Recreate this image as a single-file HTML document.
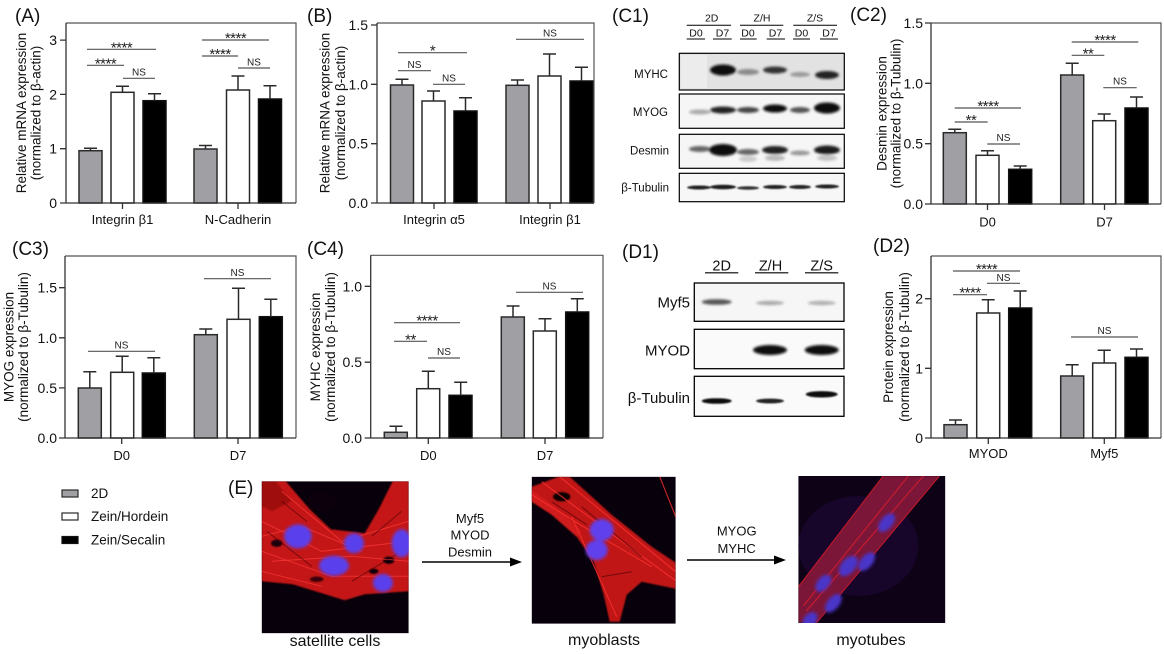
<!DOCTYPE html>
<html><head><meta charset="utf-8"><style>
html,body{margin:0;padding:0;background:#fff;}
svg{display:block;}
text{font-family:"Liberation Sans",Arial,sans-serif;fill:#111;}
.tk{font-size:14px;text-anchor:end;}
.xl{font-size:13px;text-anchor:middle;}
.yl{font-size:13.5px;text-anchor:middle;}
.pl{font-size:19px;}
.ns{font-size:10px;text-anchor:middle;fill:#222;}
.st{font-size:15px;text-anchor:middle;letter-spacing:-0.5px;fill:#222;}
.g{fill:#a0a0a4;stroke:#2a2a2a;stroke-width:1.5;}
.w{fill:#fff;stroke:#2a2a2a;stroke-width:1.5;}
.k{fill:#000;stroke:#111;stroke-width:1.5;}
.e{stroke:#2a2a2a;stroke-width:1.5;fill:none;}
.ax{stroke:#333;stroke-width:1.3;fill:none;}
.fr{stroke:#555;stroke-width:1.2;fill:none;}
.sg{stroke:#555;stroke-width:1.2;}
.bl{font-size:11.5px;text-anchor:end;}
.hd{font-size:10.5px;text-anchor:middle;}
.dl{font-size:15px;text-anchor:end;}
.dh{font-size:14.5px;text-anchor:middle;}
.ar{font-size:13px;text-anchor:middle;}
.cap{font-size:16px;text-anchor:middle;}
.lg{font-size:13.5px;}
</style></head><body>
<svg width="1164" height="654" viewBox="0 0 1164 654" xmlns="http://www.w3.org/2000/svg">
<defs>
<filter id="bb" x="-50%" y="-100%" width="200%" height="300%"><feGaussianBlur stdDeviation="1.3"/></filter>
<filter id="bs" x="-20%" y="-20%" width="140%" height="140%"><feGaussianBlur stdDeviation="0.8"/></filter>
<filter id="bn" x="-30%" y="-30%" width="160%" height="160%"><feGaussianBlur stdDeviation="1.5"/></filter>
<clipPath id="ci1"><rect width="147" height="152"/></clipPath>
<clipPath id="ci2"><rect width="144" height="147"/></clipPath>
<clipPath id="ci3"><rect width="147" height="147"/></clipPath>
</defs>
<rect width="1164" height="654" fill="#fff"/>

<!-- ================= Panel A ================= -->
<text class="pl" x="15" y="22">(A)</text>
<g>
<rect class="g" x="79" y="150.7" width="23" height="52.3"/>
<rect class="w" x="111" y="92.3" width="23" height="110.7"/>
<rect class="k" x="143" y="100.7" width="23" height="102.3"/>
<rect class="g" x="194" y="149" width="23" height="54"/>
<rect class="w" x="226.5" y="90" width="23" height="113"/>
<rect class="k" x="258.5" y="99" width="23" height="104"/>
<path class="e" d="M90.5 150.7V148.3M84 148.3H97M122.5 92.3V86.3M116 86.3H129M154.5 100.7V93.7M148 93.7H161M205.5 149V145.5M199 145.5H212M238 90V76M231.5 76H244.5M270 99V85.7M263.5 85.7H276.5"/>
<path class="fr" d="M66 23H296V203"/>
<path class="ax" d="M66 23V203H296M60 203H66M60 148.7H66M60 94.4H66M60 40.1H66M122.5 203V209M238 203V209"/>
<text class="tk" x="57" y="208">0</text>
<text class="tk" x="57" y="153.7">1</text>
<text class="tk" x="57" y="99.4">2</text>
<text class="tk" x="57" y="45.1">3</text>
<text class="xl" x="122.5" y="224">Integrin β1</text>
<text class="xl" x="238" y="224">N-Cadherin</text>
<text class="yl" transform="translate(25.8,113) rotate(-90)">Relative mRNA expression</text>
<text class="yl" transform="translate(40.3,113) rotate(-90)">(normalized to β-actin)</text>
<path class="sg" d="M87 49.3H156M87 65.3H124M123 78.3H155M202 40H269M202 56H238M238 68H270"/>
<text class="st" x="121.5" y="52.3">****</text>
<text class="st" x="105.5" y="68.3">****</text>
<text class="ns" x="139" y="75.6">NS</text>
<text class="st" x="235.5" y="43">****</text>
<text class="st" x="220" y="59">****</text>
<text class="ns" x="254" y="65.3">NS</text>
</g>

<!-- ================= Panel B ================= -->
<text class="pl" x="307" y="22">(B)</text>
<g>
<rect class="g" x="390.5" y="85" width="23" height="118"/>
<rect class="w" x="422" y="101" width="23" height="102"/>
<rect class="k" x="454" y="111" width="23" height="92"/>
<rect class="g" x="506" y="85.3" width="23" height="117.7"/>
<rect class="w" x="538" y="76" width="23" height="127"/>
<rect class="k" x="570" y="81" width="23" height="122"/>
<path class="e" d="M402 85V79.3M395.5 79.3H408.5M433.5 101V91M427 91H440M465.5 111V97.7M459 97.7H472M517.5 85.3V80M511 80H524M549.5 76V54M543 54H556M581.5 81V67.3M575 67.3H588"/>
<path class="fr" d="M377 23H594V203"/>
<path class="ax" d="M377 23V203H594M371 203H377M371 143.7H377M371 84.3H377M371 25H377M434 203V209M550 203V209"/>
<text class="tk" x="368" y="208">0.0</text>
<text class="tk" x="368" y="148.7">0.5</text>
<text class="tk" x="368" y="89.3">1.0</text>
<text class="tk" x="368" y="30">1.5</text>
<text class="xl" x="434" y="224">Integrin α5</text>
<text class="xl" x="550" y="224">Integrin β1</text>
<text class="yl" transform="translate(329.3,113) rotate(-90)">Relative mRNA expression</text>
<text class="yl" transform="translate(344.8,113) rotate(-90)">(normalized to β-actin)</text>
<path class="sg" d="M398 52.7H467M398 70.7H431M433 84.3H465M516 39.3H584"/>
<text class="st" x="432.5" y="55.7">*</text>
<text class="ns" x="414.5" y="68">NS</text>
<text class="ns" x="449" y="81.6">NS</text>
<text class="ns" x="550" y="36.6">NS</text>
</g>

<!-- ================= Panel C1 (blot) ================= -->
<text class="pl" x="612" y="22">(C1)</text>
<g>
<text class="hd" x="711.7" y="21.5">2D</text>
<text class="hd" x="762" y="21.5">Z/H</text>
<text class="hd" x="815" y="21.5">Z/S</text>
<path stroke="#000" stroke-width="1" d="M686.7 25.3H731M740 25.3H783.3M793.3 25.3H837"/>
<text class="hd" x="696" y="36.5">D0</text>
<text class="hd" x="722.5" y="36.5">D7</text>
<text class="hd" x="748" y="36.5">D0</text>
<text class="hd" x="775.5" y="36.5">D7</text>
<text class="hd" x="801.5" y="36.5">D0</text>
<text class="hd" x="829" y="36.5">D7</text>
<path stroke="#000" stroke-width="1" d="M686.7 39H705M713 39H731.7M740 39H756.7M766.7 39H785M793 39H810M820 39H838"/>
<!-- MYHC -->
<rect x="679.3" y="53.3" width="165" height="36.7" fill="#e2e2e2"/>
<rect x="681" y="55" width="26" height="33" fill="#ececec"/>
<g filter="url(#bb)">
<ellipse cx="723" cy="70" rx="13" ry="5.5" fill="#111"/>
<ellipse cx="748" cy="72" rx="11" ry="3" fill="#8a8a8a"/>
<ellipse cx="775" cy="70" rx="12" ry="3.5" fill="#333"/>
<ellipse cx="800" cy="74.5" rx="10" ry="2.5" fill="#9a9a9a"/>
<ellipse cx="827" cy="75" rx="12" ry="4" fill="#222"/>
</g>
<rect x="679.3" y="53.3" width="165" height="36.7" fill="none" stroke="#000" stroke-width="1.2"/>
<!-- MYOG -->
<rect x="679.3" y="94" width="165" height="34.3" fill="#f6f6f6"/>
<g filter="url(#bb)">
<ellipse cx="700" cy="112" rx="11" ry="2.5" fill="#aaa"/>
<ellipse cx="723" cy="110" rx="13" ry="3.5" fill="#222"/>
<ellipse cx="748" cy="110" rx="11" ry="3" fill="#444"/>
<ellipse cx="775" cy="108.5" rx="12" ry="4" fill="#111"/>
<ellipse cx="800" cy="110" rx="10" ry="3" fill="#555"/>
<ellipse cx="827" cy="108" rx="13" ry="5.5" fill="#0a0a0a"/>
</g>
<rect x="679.3" y="94" width="165" height="34.3" fill="none" stroke="#000" stroke-width="1.2"/>
<!-- Desmin -->
<rect x="679.3" y="134.3" width="165" height="34" fill="#f6f6f6"/>
<g filter="url(#bb)">
<ellipse cx="700" cy="149" rx="11" ry="3" fill="#666"/>
<ellipse cx="723" cy="150" rx="14" ry="6" fill="#0a0a0a"/>
<ellipse cx="748" cy="152" rx="11" ry="3" fill="#666"/>
<ellipse cx="748" cy="159" rx="9" ry="3" fill="#ccc"/>
<ellipse cx="775" cy="150" rx="13" ry="4" fill="#222"/>
<ellipse cx="775" cy="158" rx="10" ry="3" fill="#bbb"/>
<ellipse cx="800" cy="153" rx="10" ry="2.5" fill="#999"/>
<ellipse cx="827" cy="150" rx="13" ry="4.5" fill="#1a1a1a"/>
<ellipse cx="827" cy="158" rx="10" ry="3" fill="#c4c4c4"/>
</g>
<rect x="679.3" y="134.3" width="165" height="34" fill="none" stroke="#000" stroke-width="1.2"/>
<!-- Tubulin -->
<rect x="679.3" y="173.3" width="165" height="28.4" fill="#f7f7f7"/>
<g filter="url(#bs)">
<ellipse cx="699" cy="187.5" rx="12" ry="2" fill="#222"/>
<ellipse cx="723" cy="187" rx="13" ry="2.3" fill="#1a1a1a"/>
<ellipse cx="748" cy="188" rx="11" ry="1.8" fill="#333"/>
<ellipse cx="775" cy="187" rx="12" ry="2" fill="#222"/>
<ellipse cx="800" cy="187" rx="11" ry="2" fill="#222"/>
<ellipse cx="827" cy="186.5" rx="12" ry="2" fill="#222"/>
</g>
<rect x="679.3" y="173.3" width="165" height="28.4" fill="none" stroke="#000" stroke-width="1.2"/>
<text class="bl" x="668" y="78">MYHC</text>
<text class="bl" x="668" y="116">MYOG</text>
<text class="bl" x="669" y="154.5">Desmin</text>
<text class="bl" x="669" y="191.5">β-Tubulin</text>
</g>

<!-- ================= Panel C2 ================= -->
<text class="pl" x="850" y="21">(C2)</text>
<g>
<rect class="g" x="943.3" y="132.7" width="23" height="71.3"/>
<rect class="w" x="976" y="155.3" width="23" height="48.7"/>
<rect class="k" x="1008.7" y="169.3" width="23" height="34.7"/>
<rect class="g" x="1060.7" y="75" width="23" height="129"/>
<rect class="w" x="1092.7" y="120.7" width="23" height="83.3"/>
<rect class="k" x="1125" y="108" width="23" height="96"/>
<path class="e" d="M954.8 132.7V129.3M948.3 129.3H961.3M987.5 155.3V150.7M981 150.7H994M1020.2 169.3V166M1013.7 166H1026.7M1072.2 75V63.3M1065.7 63.3H1078.7M1104.2 120.7V114M1097.7 114H1110.7M1136.5 108V97M1130 97H1143"/>
<path class="fr" d="M931 23H1161V204"/>
<path class="ax" d="M931 23V204H1161M925 204H931M925 143.7H931M925 83.3H931M925 23H931M987.5 204V210M1104.5 204V210"/>
<text class="tk" x="923" y="209">0.0</text>
<text class="tk" x="923" y="148.7">0.5</text>
<text class="tk" x="923" y="88.3">1.0</text>
<text class="tk" x="923" y="28">1.5</text>
<text class="xl" x="987.5" y="226.5">D0</text>
<text class="xl" x="1104.5" y="226.5">D7</text>
<text class="yl" transform="translate(886.5,113.5) rotate(-90)">Desmin expression</text>
<text class="yl" transform="translate(900.5,113.5) rotate(-90)">(normalized to β-Tubulin)</text>
<path class="sg" d="M954.7 108H1021M954.7 122H987.7M987.3 144H1020M1071.7 42H1138.3M1071.7 55.3H1104.3M1103.3 87.7H1136.7"/>
<text class="st" x="988" y="111">****</text>
<text class="st" x="971" y="125">**</text>
<text class="ns" x="1003.5" y="141">NS</text>
<text class="st" x="1105" y="45">****</text>
<text class="st" x="1088" y="58.3">**</text>
<text class="ns" x="1120" y="84.7">NS</text>
</g>

<!-- ================= Panel C3 ================= -->
<text class="pl" x="12" y="255">(C3)</text>
<g>
<rect class="g" x="78.3" y="388" width="23" height="50"/>
<rect class="w" x="110.7" y="372.3" width="23" height="65.7"/>
<rect class="k" x="142.3" y="373" width="23" height="65"/>
<rect class="g" x="194.3" y="334.7" width="23" height="103.3"/>
<rect class="w" x="227" y="319.3" width="23" height="118.7"/>
<rect class="k" x="259.3" y="316.7" width="23" height="121.3"/>
<path class="e" d="M89.8 388V371.7M83.3 371.7H96.3M122.2 372.3V356.3M115.7 356.3H128.7M153.8 373V357.7M147.3 357.7H160.3M205.8 334.7V329M199.3 329H212.3M238.5 319.3V288.3M232 288.3H245M270.8 316.7V299.3M264.3 299.3H277.3"/>
<path class="fr" d="M65 256H296V438"/>
<path class="ax" d="M65 256V438H296M59 438H65M59 387.9H65M59 337.8H65M59 287.7H65M121.7 438V444M238 438V444"/>
<text class="tk" x="57" y="443">0.0</text>
<text class="tk" x="57" y="392.9">0.5</text>
<text class="tk" x="57" y="342.8">1.0</text>
<text class="tk" x="57" y="292.7">1.5</text>
<text class="xl" x="121.7" y="460">D0</text>
<text class="xl" x="238" y="460">D7</text>
<text class="yl" transform="translate(13.5,347) rotate(-90)">MYOG expression</text>
<text class="yl" transform="translate(28,347) rotate(-90)">(normalized to β-Tubulin)</text>
<path class="sg" d="M88 351.3H155M204 278.7H271"/>
<text class="ns" x="121.5" y="348.5">NS</text>
<text class="ns" x="237.5" y="275.8">NS</text>
</g>

<!-- ================= Panel C4 ================= -->
<text class="pl" x="307" y="255">(C4)</text>
<g>
<rect class="g" x="384.3" y="432.3" width="23" height="5.7"/>
<rect class="w" x="416.7" y="388.7" width="23" height="49.3"/>
<rect class="k" x="449" y="395.3" width="23" height="42.7"/>
<rect class="g" x="501.3" y="317" width="23" height="121"/>
<rect class="w" x="533.3" y="331" width="23" height="107"/>
<rect class="k" x="565.7" y="312" width="23" height="126"/>
<path class="e" d="M396 432.3V426.3M389.5 426.3H402.5M428.3 388.7V371.3M421.8 371.3H434.8M460.7 395.3V382.3M454.2 382.3H467.2M513 317V306M506.5 306H519.5M545 331V318.7M538.5 318.7H551.5M577.3 312V298.7M570.8 298.7H583.8"/>
<path class="fr" d="M370.7 255.3H603V438"/>
<path class="ax" d="M370.7 255.3V438H603M364.7 438H370.7M364.7 362.2H370.7M364.7 286.3H370.7M428.3 438V444M545 438V444"/>
<text class="tk" x="362" y="443">0.0</text>
<text class="tk" x="362" y="367.2">0.5</text>
<text class="tk" x="362" y="291.3">1.0</text>
<text class="xl" x="428.3" y="460">D0</text>
<text class="xl" x="545" y="460">D7</text>
<text class="yl" transform="translate(320,347) rotate(-90)">MYHC expression</text>
<text class="yl" transform="translate(335,347) rotate(-90)">(normalized to β-Tubulin)</text>
<path class="sg" d="M394 322.7H460M394 341.3H427M428 358H460M516 292.3H583"/>
<text class="st" x="427" y="325.7">****</text>
<text class="st" x="410.5" y="344.3">**</text>
<text class="ns" x="444" y="355">NS</text>
<text class="ns" x="549.5" y="289.3">NS</text>
</g>

<!-- ================= Panel D1 (blot) ================= -->
<text class="pl" x="622" y="258">(D1)</text>
<g>
<text class="dh" x="721.7" y="270.5">2D</text>
<text class="dh" x="770.5" y="270.5">Z/H</text>
<text class="dh" x="821.7" y="270.5">Z/S</text>
<path stroke="#000" stroke-width="1.1" d="M705 272.8H738.3M755 272.8H788.3M805 272.8H838.3"/>
<rect x="694.3" y="283" width="149.7" height="38.3" fill="#f6f6f6"/>
<g filter="url(#bb)">
<ellipse cx="716.7" cy="302" rx="15" ry="2.8" fill="#555"/>
<ellipse cx="770" cy="303" rx="14" ry="2.2" fill="#aaa"/>
<ellipse cx="821.7" cy="303" rx="14" ry="2.2" fill="#b0b0b0"/>
</g>
<rect x="694.3" y="283" width="149.7" height="38.3" fill="none" stroke="#000" stroke-width="1.3"/>
<rect x="694.3" y="329.3" width="149.7" height="39.4" fill="#fafafa"/>
<g filter="url(#bb)">
<ellipse cx="770" cy="350" rx="17" ry="5" fill="#0a0a0a"/>
<ellipse cx="821.7" cy="350" rx="17" ry="5" fill="#0a0a0a"/>
</g>
<rect x="694.3" y="329.3" width="149.7" height="39.4" fill="none" stroke="#000" stroke-width="1.3"/>
<rect x="694.3" y="376.3" width="149.7" height="40" fill="#fafafa"/>
<g filter="url(#bs)">
<ellipse cx="716.7" cy="401" rx="15" ry="2.8" fill="#111"/>
<ellipse cx="770" cy="401" rx="14" ry="2.4" fill="#222"/>
<ellipse cx="821.7" cy="394.3" rx="16" ry="3.2" fill="#0a0a0a"/>
</g>
<rect x="694.3" y="376.3" width="149.7" height="40" fill="none" stroke="#000" stroke-width="1.3"/>
<text class="dl" x="690" y="307.5">Myf5</text>
<text class="dl" x="690" y="355.5">MYOD</text>
<text class="dl" x="690" y="403">β-Tubulin</text>
</g>

<!-- ================= Panel D2 ================= -->
<text class="pl" x="873" y="252">(D2)</text>
<g>
<rect class="g" x="944" y="424.7" width="23" height="13.3"/>
<rect class="w" x="976.7" y="313" width="23" height="125"/>
<rect class="k" x="1008.7" y="308" width="23" height="130"/>
<rect class="g" x="1060.7" y="376" width="23" height="62"/>
<rect class="w" x="1092.7" y="363" width="23" height="75"/>
<rect class="k" x="1125" y="357.3" width="23" height="80.7"/>
<path class="e" d="M955.5 424.7V420M949 420H962M988.2 313V299.7M981.7 299.7H994.7M1020.2 308V291M1013.7 291H1026.7M1072.2 376V364.7M1065.7 364.7H1078.7M1104.2 363V350.3M1097.7 350.3H1110.7M1136.5 357.3V349M1130 349H1143"/>
<path class="fr" d="M931 256H1161V438"/>
<path class="ax" d="M931 256V438H1161M925 438H931M925 368.3H931M925 298.7H931M988.3 438V444M1104.3 438V444"/>
<text class="tk" x="923" y="443">0</text>
<text class="tk" x="923" y="373.3">1</text>
<text class="tk" x="923" y="303.7">2</text>
<text class="xl" x="988.3" y="458">MYOD</text>
<text class="xl" x="1104.3" y="458">Myf5</text>
<text class="yl" transform="translate(893,347) rotate(-90)">Protein expression</text>
<text class="yl" transform="translate(909,347) rotate(-90)">(normalized to β-Tubulin)</text>
<path class="sg" d="M953 271H1020M987 283.3H1020M953 294.7H987M1071 337H1138"/>
<text class="st" x="986.5" y="274">****</text>
<text class="ns" x="1003.5" y="280.8">NS</text>
<text class="st" x="970" y="297.7">****</text>
<text class="ns" x="1104.5" y="334">NS</text>
</g>

<!-- ================= Legend ================= -->
<rect x="62" y="490" width="16" height="7" fill="#a0a0a4" stroke="#2a2a2a" stroke-width="1.2"/>
<rect x="62" y="513" width="16" height="7" fill="#fff" stroke="#2a2a2a" stroke-width="1.2"/>
<rect x="62" y="536.5" width="16" height="7" fill="#000" stroke="#111" stroke-width="1.2"/>
<text class="lg" x="91" y="498.2">2D</text>
<text class="lg" x="91" y="521.2">Zein/Hordein</text>
<text class="lg" x="91" y="544.7">Zein/Secalin</text>

<!-- ================= Panel E ================= -->
<text class="pl" x="228" y="494">(E)</text>

<!-- image 1 satellite cells -->
<g transform="translate(261.7,481.3)">
<g clip-path="url(#ci1)">
<rect width="147" height="152" fill="#08000a"/>
<g filter="url(#bs)">
<polygon points="0,0 24,0 48,28 69,48 103,52 117,28 131,0 147,0 147,110 103,113 83,119 31,103 0,100" fill="#c41616"/>
<polygon points="0,0 14,0 30,20 10,30 0,25" fill="#a01010"/>
<ellipse cx="60" cy="20" rx="14" ry="10" fill="#0a0008"/>
<ellipse cx="127" cy="79" rx="6" ry="4" fill="#100008"/>
<ellipse cx="112" cy="90" rx="5" ry="3" fill="#100008"/>
<ellipse cx="15" cy="62" rx="6" ry="4" fill="#1a0008"/>
<ellipse cx="55" cy="98" rx="7" ry="3" fill="#3a0008"/>
</g>
<path d="M0 40L60 70L147 60M0 70L70 95L147 95M20 10L80 60L147 40M0 90L60 105M0 55L40 45L100 70M10 80L90 75L147 80" stroke="#ff3a3a" stroke-width="1" fill="none" opacity="0.7"/>
<path d="M5 50L50 85M90 100L140 70M110 55L140 30M20 20L45 40" stroke="#500008" stroke-width="1" fill="none" opacity="0.6"/>
<g filter="url(#bn)">
<ellipse cx="36.2" cy="55.1" rx="13.8" ry="12" fill="#5a40ec"/>
<ellipse cx="92.3" cy="62" rx="10" ry="10" fill="#5a40ec"/>
<ellipse cx="72.3" cy="84.4" rx="15" ry="10" fill="#5a40ec"/>
<ellipse cx="121.2" cy="101.6" rx="10" ry="9" fill="#5a40ec"/>
<ellipse cx="140" cy="62" rx="10" ry="14" fill="#5a40ec"/>
</g>
</g>
</g>
<path d="M422 562H512" stroke="#000" stroke-width="1.4"/>
<polygon points="510,557.5 522,562 510,566.5" fill="#000"/>
<text class="ar" x="470" y="523">Myf5</text>
<text class="ar" x="470" y="539.7">MYOD</text>
<text class="ar" x="470" y="556.7">Desmin</text>
<text class="cap" x="335" y="646">satellite cells</text>

<!-- image 2 myoblasts -->
<g transform="translate(531.7,476.7)">
<g clip-path="url(#ci2)">
<rect width="144" height="147" fill="#08000a"/>
<g filter="url(#bs)">
<polygon points="0,10 27,0 38,0 80,38 120,70 144,86 144,112 110,105 95,118 88,145 78,145 72,118 62,85 45,60 20,38 0,25" fill="#c01414"/>
<polygon points="0,13 30,35 50,55 45,60 20,38 0,25" fill="#d01c1c"/>
<ellipse cx="30" cy="20" rx="9" ry="5" fill="#100006"/>
</g>
<path d="M28 0L144 95M10 5L100 72L144 104M40 40L85 140M128 0L144 40M0 18L60 55L120 90" stroke="#ff3030" stroke-width="1.1" fill="none" opacity="0.8"/>
<path d="M50 30L110 80M70 100L100 95M20 25L55 48" stroke="#400006" stroke-width="1" fill="none" opacity="0.6"/>
<g filter="url(#bn)">
<ellipse cx="70" cy="53.3" rx="12" ry="11" fill="#6040ec"/>
<ellipse cx="65" cy="73.3" rx="11" ry="10" fill="#6040ec"/>
</g>
</g>
</g>
<path d="M687 560H776" stroke="#000" stroke-width="1.4"/>
<polygon points="774,555.5 786,560 774,564.5" fill="#000"/>
<text class="ar" x="736.7" y="535.4">MYOG</text>
<text class="ar" x="736.7" y="553">MYHC</text>
<text class="cap" x="604" y="645">myoblasts</text>

<!-- image 3 myotubes -->
<g transform="translate(798.3,476)">
<g clip-path="url(#ci3)">
<rect width="147" height="147" fill="#0e0316"/>
<ellipse cx="60" cy="70" rx="60" ry="50" fill="#1a0630" opacity="0.8"/>
<g filter="url(#bs)">
<polygon points="0,111 85,0 141,0 18,147 0,147" fill="#7c1238"/>
</g>
<path d="M0 111L85 0M18 147L141 0M5 130L110 0M8 135L125 0" stroke="#d81c2c" stroke-width="1.2" fill="none" opacity="0.8"/>
<g filter="url(#bn)">
<ellipse cx="88.3" cy="46.7" rx="11" ry="6" fill="#4a34c8" transform="rotate(-50 88.3 46.7)"/>
<ellipse cx="50" cy="90" rx="12" ry="7" fill="#4a34c8" transform="rotate(-50 50 90)"/>
<ellipse cx="68.3" cy="85.7" rx="11" ry="6" fill="#4a34c8" transform="rotate(-50 68.3 85.7)"/>
<ellipse cx="25" cy="107.3" rx="10" ry="6" fill="#4a34c8" transform="rotate(-50 25 107.3)"/>
<ellipse cx="35" cy="127.3" rx="11" ry="6" fill="#4a34c8" transform="rotate(-50 35 127.3)"/>
<ellipse cx="11.7" cy="144" rx="9" ry="6" fill="#4a34c8" transform="rotate(-50 11.7 144)"/>
</g>
</g>
</g>
<text class="cap" x="871" y="645">myotubes</text>
</svg>
</body></html>
